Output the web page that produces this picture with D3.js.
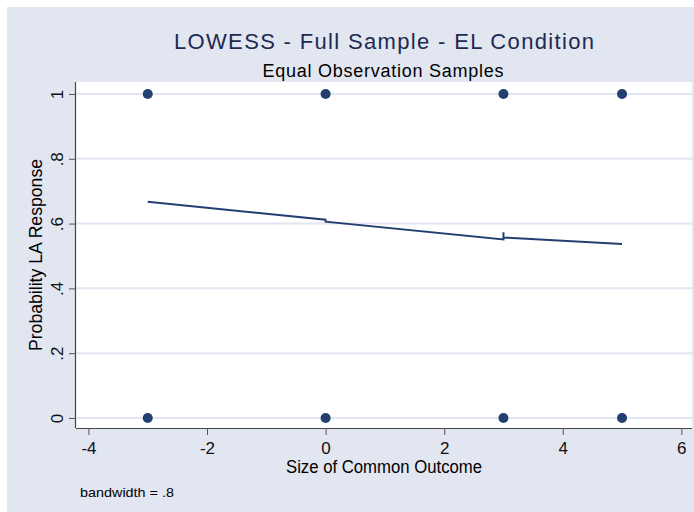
<!DOCTYPE html>
<html>
<head>
<meta charset="utf-8">
<script src="https://cdn.jsdelivr.net/npm/d3@7"></script>
<style>
  body { margin: 0; background: #fff; }
  svg { display: block; font-family: "Liberation Sans", Arial, sans-serif; }
</style>
</head>
<body>
<div id="chart"></div>
<script>
// observed outcomes (binary response at each common-outcome size)
const xValues = [-3, 0, 3, 5];
const responseValues = [0, 1];

// lowess smoother (ties give the little steps)
const lowessX = [-3, 0, 0, 3, 3, 3, 5];
const lowessY = [0.667, 0.612, 0.606, 0.551, 0.573, 0.557, 0.537];

const xTicks = [-4, -2, 0, 2, 4, 6];
const yTicks = [0, 0.2, 0.4, 0.6, 0.8, 1];

const width = 694, height = 512;
const plot = { left: 76, right: 692, top: 82, bottom: 428 };
const navy = "#233f72";

const svg = d3.select("#chart").append("svg")
    .attr("width", width)
    .attr("height", height);

// outer graph region
svg.append("rect")
    .attr("x", 7).attr("y", 7)
    .attr("width", width - 7).attr("height", height - 7)
    .attr("fill", "#e2e6f0");

svg.append("rect")
    .attr("x", plot.left).attr("y", plot.top)
    .attr("width", plot.right - plot.left).attr("height", plot.bottom - plot.top)
    .attr("fill", "white");

const x = d3.scaleLinear().domain([-4.21, 6.18]).range([plot.left, plot.right]);
const y = d3.scaleLinear().domain([-0.031, 1.037]).range([plot.bottom, plot.top]);

const fmtY = d => d === 0 ? "0" : d === 1 ? "1" : d3.format(".1f")(d).replace(/^0/, "");

// gridlines
svg.append("g")
  .selectAll("line")
  .data(yTicks)
  .join("line")
    .attr("x1", plot.left).attr("x2", plot.right)
    .attr("y1", d => y(d)).attr("y2", d => y(d))
    .attr("stroke", "#e1e6f0")
    .attr("stroke-width", 2);

// axes
const xAxis = svg.append("g")
    .attr("transform", `translate(0,${plot.bottom})`)
    .call(d3.axisBottom(x).tickValues(xTicks).tickSize(7).tickSizeOuter(0)
        .tickPadding(7).tickFormat(d => String(d)));

const yAxis = svg.append("g")
    .attr("transform", `translate(${plot.left},0)`)
    .call(d3.axisLeft(y).tickValues(yTicks).tickSize(7).tickSizeOuter(0).tickFormat(fmtY));

[xAxis, yAxis].forEach(g => {
  g.select(".domain").attr("stroke", "#444").attr("stroke-width", 1.2);
  g.selectAll(".tick line").attr("stroke", "#555");
  g.selectAll(".tick text")
      .attr("fill", "#111")
      .style("font-size", "17px")
      .style("font-family", "Liberation Sans, Arial, sans-serif");
});

xAxis.selectAll(".domain").attr("d", `M${plot.left},0.5H${plot.right}`);
yAxis.selectAll(".domain").attr("d", `M-0.5,${plot.bottom}V${plot.top}`);

// rotated y tick labels, baseline 13px left of the axis
yAxis.selectAll(".tick text")
    .attr("x", null).attr("dy", null)
    .attr("text-anchor", "middle")
    .attr("transform", "translate(-13,0) rotate(-90)");

// scatter of observations
const obs = [];
xValues.forEach(xv => responseValues.forEach(yv => obs.push({ x: xv, y: yv })));

svg.append("g")
  .selectAll("circle")
  .data(obs)
  .join("circle")
    .attr("cx", d => x(d.x))
    .attr("cy", d => y(d.y))
    .attr("r", 5)
    .attr("fill", navy);

// lowess curve
const line = d3.line()
    .x((d, i) => x(lowessX[i]))
    .y(d => y(d));

svg.append("path")
    .datum(lowessY)
    .attr("d", line)
    .attr("fill", "none")
    .attr("stroke", navy)
    .attr("stroke-width", 2);

// titles
const cx = (plot.left + plot.right) / 2;

svg.append("text")
    .attr("x", cx).attr("y", 49)
    .attr("text-anchor", "middle")
    .attr("fill", "#1d2a52")
    .attr("textLength", 420)
    .attr("lengthAdjust", "spacing")
    .style("font-size", "22px")
    .text("LOWESS - Full Sample - EL Condition");

svg.append("text")
    .attr("x", cx - 1).attr("y", 77)
    .attr("text-anchor", "middle")
    .attr("fill", "#000")
    .attr("textLength", 241)
    .attr("lengthAdjust", "spacing")
    .style("font-size", "18px")
    .text("Equal Observation Samples");

svg.append("text")
    .attr("x", cx).attr("y", 473)
    .attr("text-anchor", "middle")
    .attr("fill", "#000")
    .attr("textLength", 196)
    .attr("lengthAdjust", "spacingAndGlyphs")
    .style("font-size", "18px")
    .text("Size of Common Outcome");

svg.append("text")
    .attr("transform", `translate(42,${(plot.top + plot.bottom) / 2}) rotate(-90)`)
    .attr("text-anchor", "middle")
    .attr("fill", "#000")
    .attr("textLength", 192)
    .attr("lengthAdjust", "spacingAndGlyphs")
    .style("font-size", "18px")
    .text("Probability LA Response");

svg.append("text")
    .attr("x", 80).attr("y", 497)
    .attr("fill", "#000")
    .attr("textLength", 94)
    .attr("lengthAdjust", "spacingAndGlyphs")
    .style("font-size", "13.5px")
    .text("bandwidth = .8");
</script>
</body>
</html>
